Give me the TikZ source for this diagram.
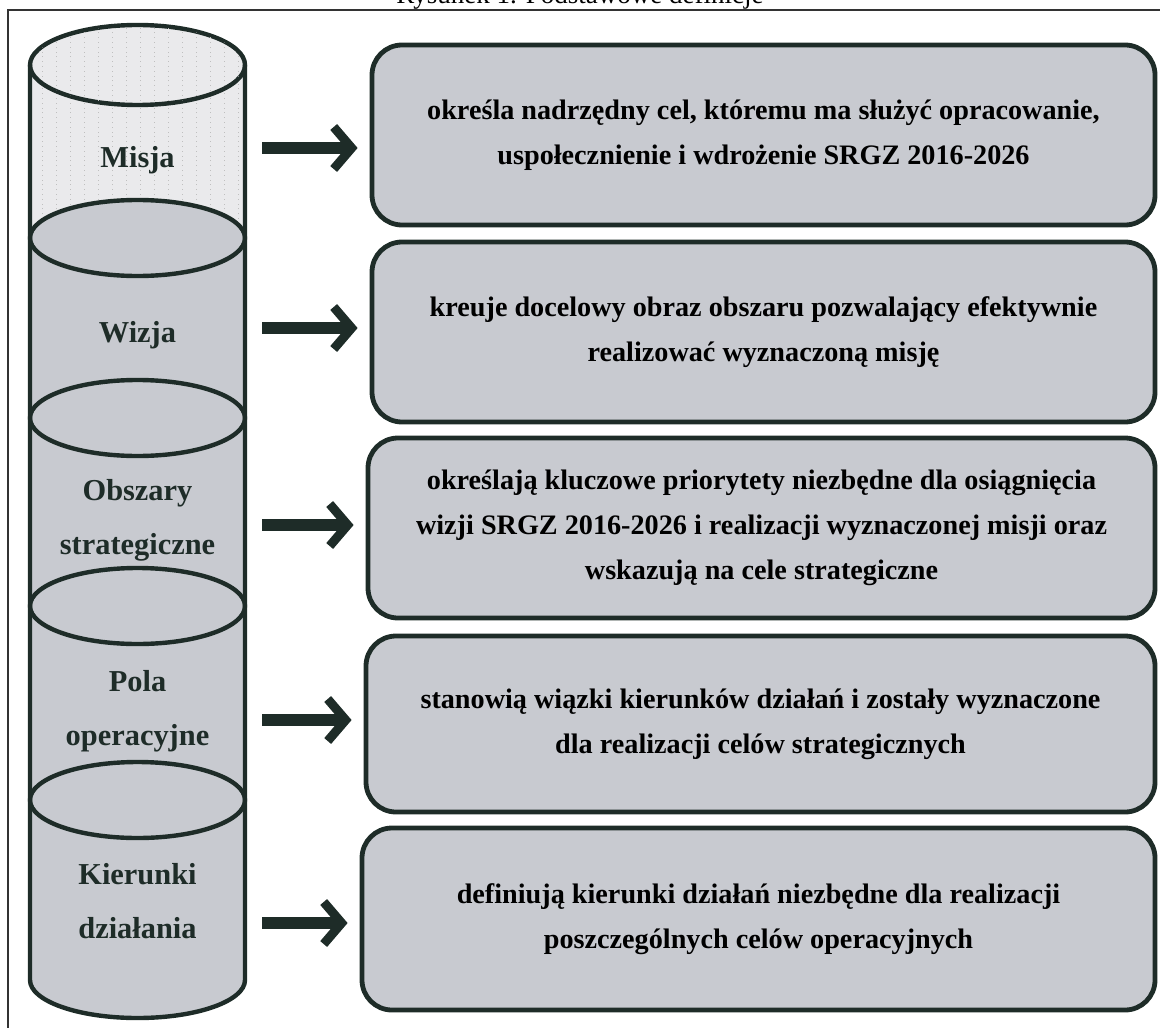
\documentclass[tikz,border=0pt]{standalone}
\usepackage{fontspec}
\setmainfont{Liberation Serif}
\usetikzlibrary{arrows.meta,positioning}

\definecolor{inkline}{RGB}{30,44,40}
\definecolor{boxgray}{RGB}{200,202,208}
\definecolor{lightgray}{RGB}{234,234,236}

\begin{document}
\begin{tikzpicture}[x=0.5pt,y=-0.5pt]
        %
        % `defbox' is used for the rounded definition boxes.
        % `level' is used for the labels inside the cylinder.
        % `bigarrow' is used for the thick arrows.
        \tikzstyle{defbox} = [draw=inkline,fill=boxgray,line width=2.4pt,rounded corners=15pt,align=center,
             font=\fontsize{14.1}{22.5}\selectfont\bfseries,text=black]
        \tikzstyle{level} = [align=center,font=\fontsize{15.2}{27}\selectfont\bfseries,text=inkline]
        \tikzstyle{bigarrow} = [draw=inkline,line width=6pt,shorten >=6pt,-{Straight Barb[length=9pt,width=21pt,line width=4.5pt]}]
        \tikzstyle{rim} = [draw=inkline,line width=2.2pt]
        \useasboundingbox (0,0) rectangle (1160,1027);
        %
        % Frame and title
        \draw[black!80,line width=0.8pt] (8,1040) -- (8,10) -- (1170,10);
        \node[anchor=base,font=\fontsize{13.5}{15}\selectfont] (title) at (580,4) {Rysunek 1. Podstawowe definicje};
        %
        % Cylinder
        \fill[boxgray] (30,65) -- (30,980) arc[start angle=180,end angle=0,x radius=107.5,y radius=38] -- (245,65) -- cycle;
        \fill[lightgray] (30,65) rectangle (245,238);
        \begin{scope}
            \clip (30,65) rectangle (245,238);
            \draw[black!25,dotted,line width=0.4pt] (30,25) grid[xstep=14,ystep=14] (245,238);
        \end{scope}
        \foreach \yy in {238,418,606,800}
            \draw[rim,fill=boxgray] (137.5,\yy) ellipse [x radius=107.5,y radius=38];
        \draw[rim,fill=lightgray] (137.5,65) ellipse [x radius=107.5,y radius=40];
        \begin{scope}
            \clip (137.5,65) ellipse [x radius=106,y radius=39];
            \draw[black!25,dotted,line width=0.4pt] (30,25) grid[xstep=14,ystep=14] (245,110);
        \end{scope}
        \draw[rim] (30,65) -- (30,980) arc[start angle=180,end angle=0,x radius=107.5,y radius=38] -- (245,65);
        %
        % Levels
        \node[level] (misja) at (137.5,160) {Misja};
        \node[level] (wizja) at (137.5,335) {Wizja};
        \node[level] (obszary) at (137.5,520) {Obszary\\strategiczne};
        \node[level] (pola) at (137.5,711) {Pola\\operacyjne};
        \node[level] (kierunki) at (137.5,901) {Kierunki\\działania};
        %
        % Definitions
        \node[defbox,minimum width=391.5pt,minimum height=90pt] (def1) at (763.5,135)
            {określa nadrzędny cel, któremu ma służyć opracowanie,\\uspołecznienie i wdrożenie SRGZ 2016-2026};
        \node[defbox,minimum width=391.5pt,minimum height=90pt] (def2) at (763.5,332)
            {kreuje docelowy obraz obszaru pozwalający efektywnie\\realizować wyznaczoną misję};
        \node[defbox,minimum width=393.5pt,minimum height=90pt] (def3) at (761.5,528)
            {określają kluczowe priorytety niezbędne dla osiągnięcia\\wizji SRGZ 2016-2026 i realizacji wyznaczonej misji oraz\\wskazują na cele strategiczne};
        \node[defbox,minimum width=394.5pt,minimum height=88pt] (def4) at (760.5,724)
            {stanowią wiązki kierunków działań i zostały wyznaczone\\dla realizacji celów strategicznych};
        \node[defbox,minimum width=396.5pt,minimum height=91pt] (def5) at (758.5,919)
            {definiują kierunki działań niezbędne dla realizacji\\poszczególnych celów operacyjnych};
        %
        % Arrows
        \coordinate (a1) at (262,148);
        \coordinate (a2) at (262,328);
        \coordinate (a3) at (262,525);
        \coordinate (a4) at (262,720);
        \coordinate (a5) at (262,923);
        \foreach \i in {1,...,5}
            \draw[bigarrow] (a\i) -- (a\i -| def\i.west);
        %
    \end{tikzpicture}
\end{document}
